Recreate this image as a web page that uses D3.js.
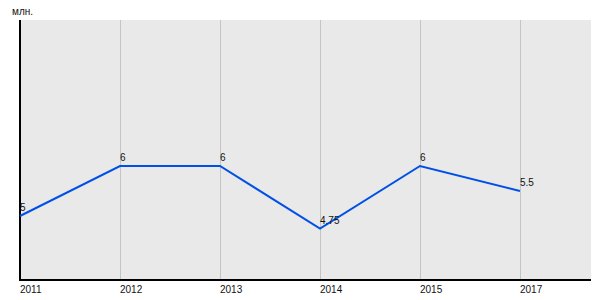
<!DOCTYPE html>
<html>
<head>
<meta charset="utf-8">
<script src="https://d3js.org/d3.v7.min.js"></script>
<style>
  body { margin: 0; background: #fff; }
  text { font-family: Arial, "Liberation Sans", sans-serif; fill: #111; }
</style>
</head>
<body>
<div id="chart"></div>
<script>
// chart data
const years = ['2011', '2012', '2013', '2014', '2015', '2017'];
const values = [5, 6, 6, 4.75, 6, 5.5];
const valueLabels = ['5', '6', '6', '4.75', '6', '5.5'];
const unitLabel = 'млн.';

const width = 600, height = 300;
const margin = {top: 20, right: 9, bottom: 20, left: 20};

const svg = d3.select('#chart').append('svg')
    .attr('width', width)
    .attr('height', height);

// x: one step of 100px per category, first category on the left edge
const x = d3.scalePoint()
    .domain(years)
    .range([margin.left, margin.left + 100 * (years.length - 1)]);

const y = d3.scaleLinear()
    .domain([3.72, 8.92])
    .range([height - margin.bottom, margin.top]);

// plot background
svg.append('rect')
    .attr('x', margin.left)
    .attr('y', margin.top)
    .attr('width', width - margin.right - margin.left)
    .attr('height', height - margin.bottom - margin.top)
    .attr('fill', '#e9e9e9');

// vertical grid lines
svg.append('g')
  .selectAll('line')
  .data(years.slice(1))
  .enter()
  .append('line')
    .attr('x1', d => x(d) + 0.5)
    .attr('x2', d => x(d) + 0.5)
    .attr('y1', margin.top)
    .attr('y2', height - margin.bottom)
    .attr('stroke', '#c4c4c4')
    .attr('stroke-width', 1);

// axes lines
svg.append('line')
    .attr('x1', margin.left).attr('x2', margin.left)
    .attr('y1', margin.top).attr('y2', height - margin.bottom)
    .attr('stroke', '#000').attr('stroke-width', 2);
svg.append('line')
    .attr('x1', margin.left - 1).attr('x2', width - margin.right)
    .attr('y1', height - margin.bottom).attr('y2', height - margin.bottom)
    .attr('stroke', '#000').attr('stroke-width', 2);

// x tick labels
svg.append('g')
  .selectAll('text')
  .data(years)
  .enter()
  .append('text')
    .attr('x', d => x(d))
    .attr('y', height - margin.bottom + 13)
    .attr('font-size', 10)
    .text(d => d);

// unit label
svg.append('text')
    .attr('x', 12)
    .attr('y', 15)
    .attr('font-size', 10)
    .text(unitLabel);

// the line
const line = d3.line()
    .x((d, i) => x(years[i]))
    .y(d => y(d));

svg.append('path')
    .datum(values)
    .attr('d', line)
    .attr('fill', 'none')
    .attr('stroke', '#0050e6')
    .attr('stroke-width', 2);

// point labels
svg.append('g')
  .selectAll('text')
  .data(values)
  .enter()
  .append('text')
    .attr('x', (d, i) => x(years[i]))
    .attr('y', d => y(d) - 5)
    .attr('font-size', 10)
    .text((d, i) => valueLabels[i]);
</script>
</body>
</html>
